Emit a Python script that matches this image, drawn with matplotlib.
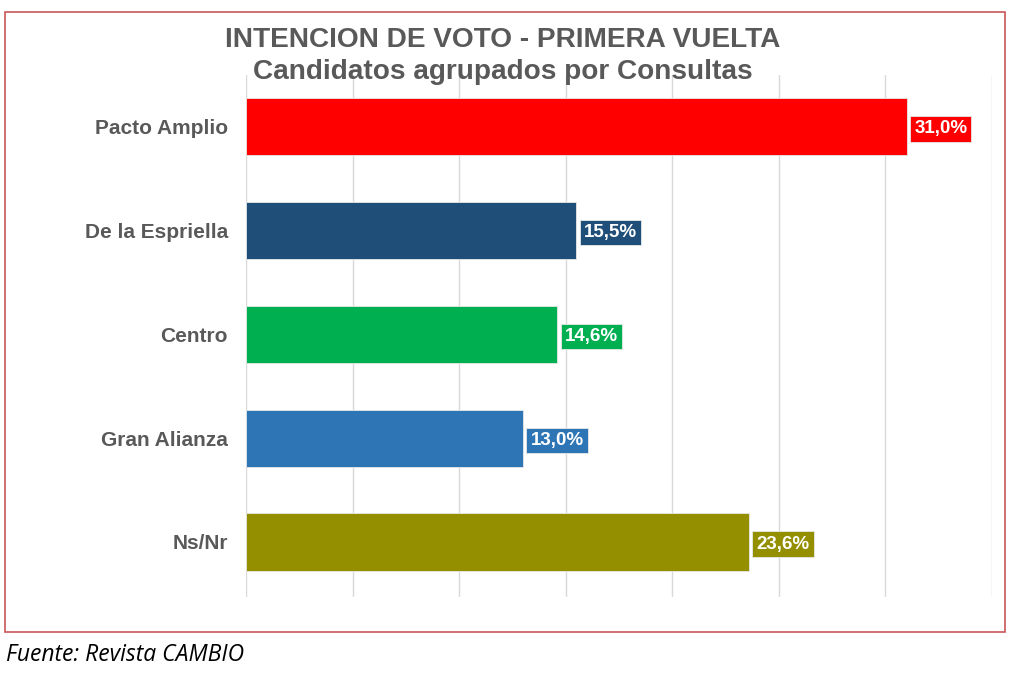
import matplotlib
matplotlib.use("Agg")
import matplotlib.pyplot as plt
from matplotlib.patches import Rectangle

categories = ["Pacto Amplio", "De la Espriella", "Centro", "Gran Alianza", "Ns/Nr"]
values = [31.0, 15.5, 14.6, 13.0, 23.6]
labels = ["31,0%", "15,5%", "14,6%", "13,0%", "23,6%"]
colors = ["#FF0000", "#1F4E79", "#00B050", "#2E75B6", "#948F00"]

plt.rcParams['font.family'] = ['Liberation Sans', 'DejaVu Sans']

fig = plt.figure(figsize=(10.24, 6.73), dpi=100)
fig.patch.set_facecolor("white")

# border
fig.patches.append(Rectangle((5/1024, 1-632/673), 1000/1024, 620/673,
                             transform=fig.transFigure, fill=False,
                             edgecolor="#C8585A", linewidth=1.2))

ax = fig.add_axes([246/1024, 1-597/673, 746/1024, 522/673])
y = list(range(len(categories)))
ax.barh(y, values, height=0.55, color=colors, edgecolor="#E8E8E8", linewidth=0.6, zorder=3)
ax.set_xlim(0, 35)
ax.set_ylim(4.53, -0.5)
ax.set_xticks(range(0, 36, 5))
ax.set_xticklabels([])
ax.tick_params(axis="x", length=0)
ax.tick_params(axis="y", length=0, pad=13)
ax.set_yticks(y)
ax.set_yticklabels(categories, fontsize=15, fontweight="bold", color="#595959")
ax.grid(axis="x", color="#D9D9D9", linewidth=1, zorder=0)
for s in ax.spines.values():
    s.set_visible(False)

for yi, v, lab, c in zip(y, values, labels, colors):
    ax.text(v + 0.35, yi + 0.02, lab, ha="left", va="center", fontsize=13.5, fontweight="bold",
            color="white", zorder=4,
            bbox=dict(boxstyle="square,pad=0.22", facecolor=c, edgecolor="#E8E8E8", linewidth=0.6))

fig.text(503/1024, 1-40/673, "INTENCION DE VOTO - PRIMERA VUELTA", ha="center", va="center",
         fontsize=20.2, fontweight="bold", color="#595959")
fig.text(503/1024, 1-72/673, "Candidatos agrupados por Consultas", ha="center", va="center",
         fontsize=20.2, fontweight="bold", color="#595959")
fig.text(6/1024, 1-655/673, "Fuente: Revista CAMBIO", ha="left", va="center",
         fontsize=16.5, fontstyle="italic", color="black", family=["Open Sans", "DejaVu Sans"])

fig.savefig("out.png", dpi=100)
